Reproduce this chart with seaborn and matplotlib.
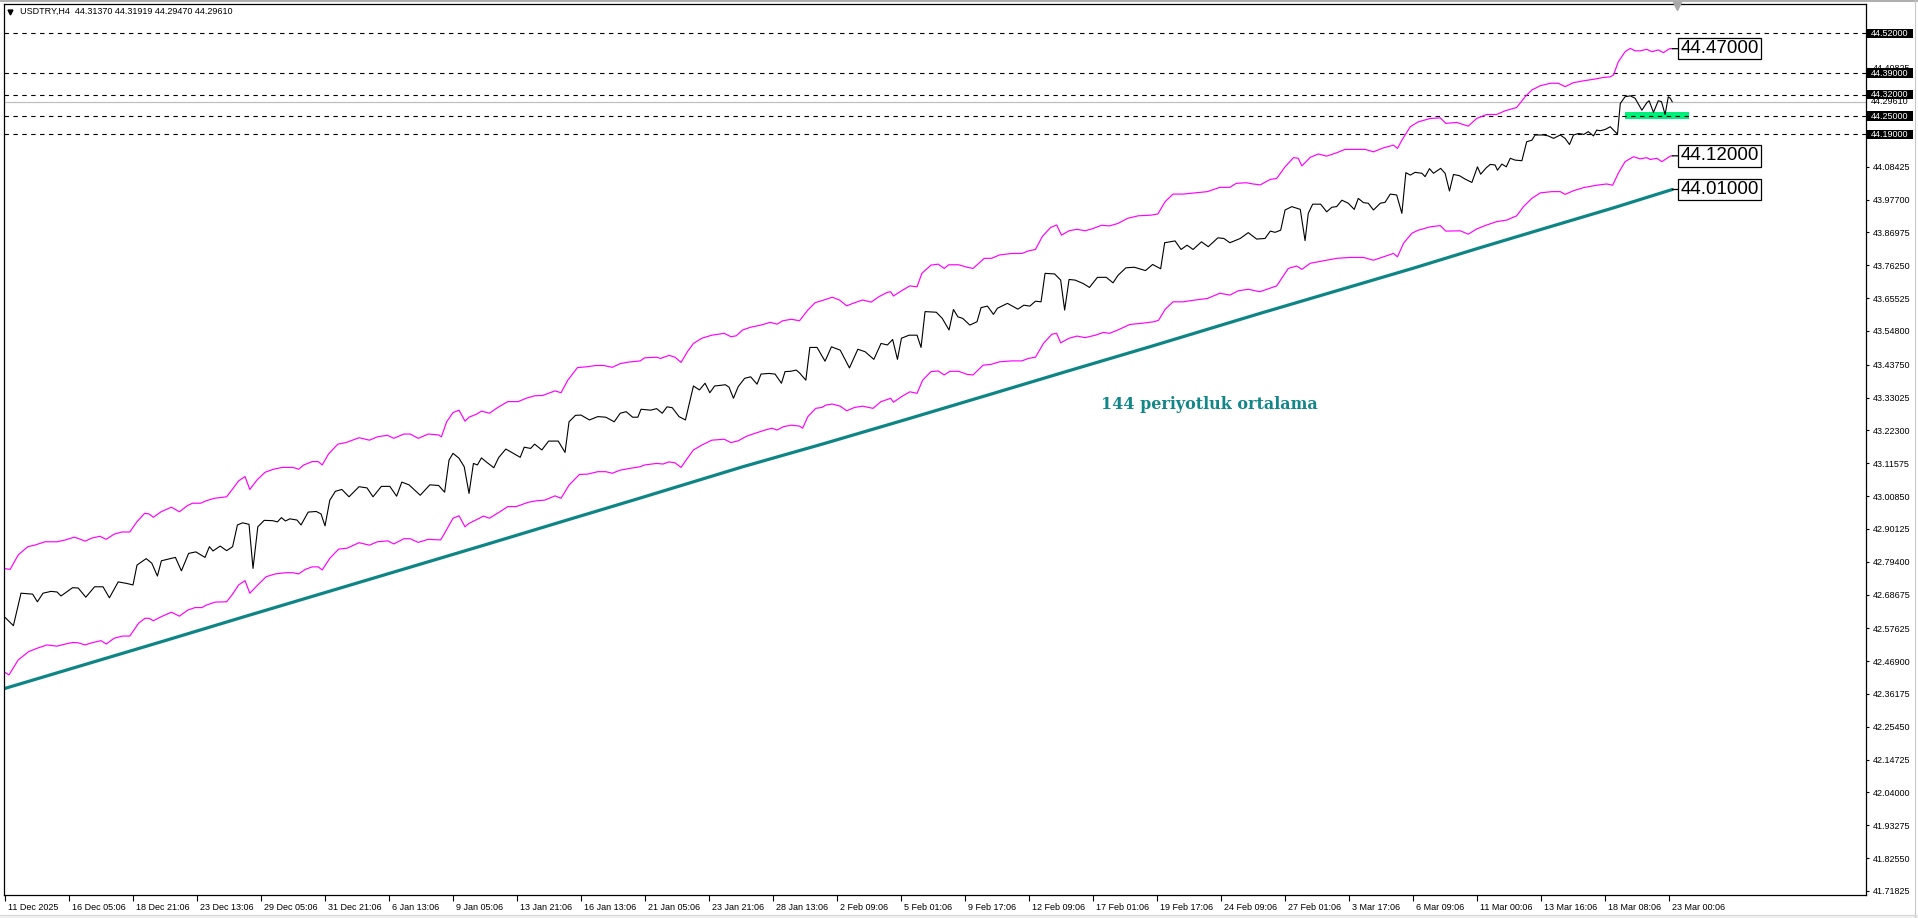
import matplotlib
matplotlib.use("Agg")
import matplotlib.pyplot as plt
import matplotlib.transforms as mtrans
from matplotlib.patches import Rectangle
from matplotlib.lines import Line2D
import seaborn as sns

sns.set_theme(style="white")
plt.rcParams['font.family'] = ['Liberation Sans', 'DejaVu Sans']

# ---------------- data (bar index = H4 bar counted from 11 Dec 2025) ----------------
close_bar = [0, 2.1, 4, 6.9, 8.1, 9.5, 11.5, 13, 14, 16.9, 18.3, 20.2, 22.4, 24.5, 26.1, 28.3, 30.4, 32, 33,
             35.3, 36.7, 38.1, 39.1, 42.6, 44.1, 45.9, 47.7, 50, 51.1, 52, 53.8, 55.4, 56.9, 58.1, 59.4, 61, 62,
             63.2, 64.8, 66.9, 68.1, 69.1, 70.1, 71.2, 73, 74, 75.8, 77.8, 79, 80, 81.2, 82.6, 84.2, 86, 88.5,
             90.5, 92, 94.1, 96.2, 97.9, 99.2, 101, 103.8, 106.2, 108.4, 109.9, 111, 112, 113.5, 114.8, 116,
             117.1, 118.1, 119.1, 120.6, 122.2, 123.4, 125.2, 126.8, 128.8, 129.8, 131.4, 132.4, 134.2, 135.9,
             138.3, 140, 141, 142.6, 144, 146.1, 148.2, 150.2, 152.3, 153.8, 155.3, 156.9, 158.2, 159, 161.4,
             162.9, 164.3, 165.5, 166.8, 168.5, 170.1, 172.1, 173.6, 175, 176.2, 177.4, 180.1, 181, 182.1,
             183.3, 184.9, 186.4, 188, 189, 191, 192.5, 194.1, 195, 196.4, 197.8, 198.6, 200.2, 201.2, 203,
             205, 206.6, 208.8, 211.1, 213.2, 215, 217.2, 219, 220.6, 221.9, 223.1, 224.1, 226, 228, 229, 230,
             232.8, 234.3, 236, 237.1, 238.2, 239.4, 241.2, 243, 244, 245.6, 247.1, 248.1, 250.6, 253.2, 254.7,
             256.2, 257.6, 259, 260, 262.4, 263.9, 264.9, 266, 267.5, 269.5, 271.1, 273.1, 275.3, 277, 278.2,
             280.2, 282.3, 285.1, 286.9, 288.9, 289.9, 292.5, 294, 295.5, 297, 299.1, 300.8, 303.2, 304.7,
             306.2, 308.8, 310.8, 312.9, 315, 316.3, 317.5, 318.9, 320, 321.7, 323.8, 325, 325.8, 326.9, 328.9,
             330.4, 331.7, 332.9, 334.2, 335.8, 337.3, 338.3, 339.6, 340.8, 342.1, 343.8, 345, 346.3, 347.9,
             349.2, 350.2, 351.3, 352.5, 354.2, 355, 356.1, 357.1, 358.9, 360, 361.1, 362.1, 363.6, 365, 366.7,
             368.1, 368.9, 370.3, 371.3, 372.5, 373.1, 374.2, 375.3, 376.3, 377.5, 379.2, 380.4, 381.7, 382.5,
             384.6, 385.8, 387.1, 388.8, 390, 391.1, 392.1, 393.4, 394.7, 395.8, 397.1, 397.9, 398.8, 400,
             401.3, 402.1, 403.1, 403.8, 405, 406.3, 407.5, 409.2, 410.4, 411, 412.1, 413.3, 414.1, 415, 415.8,
             416.3, 416.8]
close_val = [42.612, 42.585, 42.691, 42.688, 42.663, 42.691, 42.697, 42.695, 42.682, 42.709, 42.708, 42.678,
             42.712, 42.712, 42.676, 42.728, 42.723, 42.718, 42.783, 42.804, 42.789, 42.747, 42.797, 42.808,
             42.764, 42.821, 42.826, 42.808, 42.843, 42.829, 42.845, 42.830, 42.843, 42.914, 42.921, 42.916,
             42.772, 42.908, 42.929, 42.928, 42.924, 42.938, 42.927, 42.934, 42.930, 42.914, 42.956, 42.958,
             42.950, 42.911, 42.995, 43.024, 43.030, 43.006, 43.039, 43.035, 43.006, 43.040, 43.040, 43.008,
             43.054, 43.045, 43.011, 43.045, 43.043, 43.021, 43.126, 43.148, 43.132, 43.104, 43.017, 43.115,
             43.110, 43.133, 43.117, 43.101, 43.134, 43.162, 43.150, 43.135, 43.168, 43.164, 43.178, 43.159,
             43.188, 43.188, 43.151, 43.251, 43.272, 43.273, 43.257, 43.268, 43.266, 43.251, 43.279, 43.284,
             43.266, 43.266, 43.292, 43.289, 43.294, 43.279, 43.300, 43.297, 43.268, 43.257, 43.368, 43.355,
             43.377, 43.346, 43.368, 43.372, 43.364, 43.328, 43.366, 43.393, 43.398, 43.374, 43.407, 43.409,
             43.407, 43.377, 43.415, 43.416, 43.420, 43.411, 43.387, 43.494, 43.494, 43.449, 43.496, 43.485,
             43.427, 43.488, 43.480, 43.455, 43.507, 43.502, 43.520, 43.455, 43.524, 43.534, 43.534, 43.494,
             43.611, 43.609, 43.589, 43.551, 43.618, 43.594, 43.589, 43.567, 43.578, 43.624, 43.629, 43.602,
             43.622, 43.638, 43.619, 43.632, 43.629, 43.645, 43.643, 43.736, 43.734, 43.714, 43.616, 43.716,
             43.714, 43.703, 43.690, 43.723, 43.723, 43.705, 43.729, 43.754, 43.756, 43.745, 43.765, 43.751,
             43.836, 43.842, 43.814, 43.828, 43.814, 43.839, 43.823, 43.852, 43.850, 43.836, 43.850, 43.869,
             43.848, 43.850, 43.874, 43.870, 43.877, 43.943, 43.954, 43.945, 43.843, 43.932, 43.962, 43.962,
             43.937, 43.952, 43.954, 43.975, 43.965, 43.945, 43.981, 43.967, 43.965, 43.943, 43.965, 43.968,
             43.995, 43.992, 43.932, 44.065, 44.057, 44.066, 44.063, 44.052, 44.078, 44.063, 44.079, 44.063,
             44.005, 44.059, 44.055, 44.044, 44.033, 44.084, 44.060, 44.081, 44.092, 44.090, 44.073, 44.093,
             44.084, 44.112, 44.106, 44.104, 44.166, 44.171, 44.188, 44.188, 44.185, 44.177, 44.188, 44.177,
             44.157, 44.188, 44.193, 44.190, 44.199, 44.185, 44.204, 44.202, 44.206, 44.215, 44.204, 44.191,
             44.291, 44.313, 44.316, 44.308, 44.269, 44.293, 44.300, 44.262, 44.300, 44.297, 44.255, 44.313,
             44.308, 44.296]

upper_bar = [0, 1.3, 3.3, 5.7, 7.4, 10, 13, 15.1, 17.3, 18.3, 20, 21.7, 23.7, 25.3, 27.3, 29.2, 31.2, 32.9,
             34.9, 36, 37.1, 39, 41.6, 43.6, 45.7, 46.9, 48.9, 50.3, 52.3, 55.4, 56.7, 58.4, 60, 61.2, 63, 65,
             67.1, 69.3, 72, 73.4, 74.7, 76.8, 78.3, 79.3, 80.9, 83.2, 85.2, 88.5, 91.1, 93.1, 95.6, 97.2, 99.7,
             101.3, 103.3, 105.8, 108.4, 109.1, 110.4, 112, 113.5, 115, 116, 117.9, 119.1, 121.1, 123.2, 125.7,
             128.3, 130.3, 132.4, 134.4, 137.5, 139, 140.7, 143.1, 145.6, 147.7, 149.7, 151.8, 153.8, 155.8,
             158.8, 159.9, 162.9, 163.9, 166, 167.5, 169, 170.6, 172.1, 174.2, 176.7, 179.8, 181.5, 182.8, 184.4,
             186.4, 189, 191.3, 193, 194.4, 196.6, 198.6, 200.7, 202.5, 204.5, 206.8, 208.6, 210.4, 212.4,
             214.4, 216.5, 218.5, 220.6, 221.4, 222.1, 224.1, 226.2, 228, 229.2, 231.5, 233.3, 234.8, 235.9,
             238.4, 240.5, 242, 244.8, 246.6, 248.6, 251.7, 254.2, 255.8, 257.6, 259.3, 261.4, 262.9, 264.1,
             266, 268, 270, 272.1, 274.1, 276.1, 278.2, 280.7, 283.3, 286.4, 288.2, 290, 292, 294.5, 297.6,
             300.6, 303.7, 306.2, 307.8, 310.3, 312, 313.8, 316.3, 317.9, 320, 322.1, 323.3, 324.2, 326.3, 328.3,
             330.4, 332.9, 335, 337.5, 340, 342.1, 344.6, 347.1, 348.1, 349.2, 351.3, 353.3, 356.3, 358.8,
             360.2, 362.9, 365.8, 367.9, 370.4, 372.9, 375, 377.9, 380, 381.7, 383.8, 386.3, 388.3, 390, 392.1,
             394.6, 397.1, 399.6, 401.3, 402.1, 403.3, 405, 406.3, 407.5, 408.8, 410.4, 411.7, 413.3, 414.6,
             416.1, 416.8]
upper_val = [42.771, 42.769, 42.816, 42.843, 42.848, 42.859, 42.859, 42.865, 42.874, 42.870, 42.861, 42.871,
             42.877, 42.867, 42.884, 42.891, 42.891, 42.923, 42.952, 42.950, 42.939, 42.957, 42.972, 42.957,
             42.978, 42.985, 42.985, 42.993, 43.001, 43.006, 43.028, 43.058, 43.072, 43.030, 43.061, 43.086,
             43.096, 43.102, 43.102, 43.096, 43.110, 43.121, 43.121, 43.110, 43.146, 43.178, 43.183, 43.199,
             43.191, 43.202, 43.207, 43.197, 43.211, 43.211, 43.197, 43.211, 43.208, 43.202, 43.251, 43.281,
             43.289, 43.253, 43.266, 43.276, 43.286, 43.279, 43.298, 43.317, 43.317, 43.328, 43.336, 43.337,
             43.352, 43.346, 43.387, 43.428, 43.431, 43.435, 43.435, 43.429, 43.441, 43.446, 43.450, 43.460,
             43.462, 43.458, 43.468, 43.462, 43.445, 43.480, 43.507, 43.524, 43.534, 43.540, 43.529, 43.532,
             43.551, 43.560, 43.567, 43.576, 43.570, 43.581, 43.586, 43.581, 43.616, 43.640, 43.648, 43.658,
             43.649, 43.630, 43.640, 43.649, 43.642, 43.660, 43.674, 43.676, 43.662, 43.679, 43.695, 43.692,
             43.736, 43.763, 43.766, 43.752, 43.764, 43.764, 43.756, 43.752, 43.785, 43.785, 43.796, 43.801,
             43.801, 43.809, 43.814, 43.856, 43.886, 43.894, 43.861, 43.875, 43.880, 43.875, 43.883, 43.893,
             43.891, 43.899, 43.916, 43.924, 43.926, 43.930, 43.970, 43.995, 43.995, 43.999, 44.003, 44.017,
             44.017, 44.030, 44.032, 44.028, 44.025, 44.043, 44.046, 44.084, 44.114, 44.112, 44.087, 44.115,
             44.126, 44.119, 44.130, 44.141, 44.141, 44.141, 44.133, 44.146, 44.155, 44.144, 44.171, 44.215,
             44.231, 44.242, 44.244, 44.226, 44.229, 44.217, 44.242, 44.255, 44.255, 44.267, 44.278, 44.313,
             44.335, 44.349, 44.357, 44.357, 44.346, 44.359, 44.365, 44.370, 44.376, 44.378, 44.384, 44.427,
             44.460, 44.471, 44.463, 44.463, 44.468, 44.460, 44.466, 44.457, 44.470, 44.470]

lower_bar = [0, 1, 3.3, 5.9, 8, 10.5, 13, 15.1, 16.9, 18.3, 20, 21.7, 24, 25.3, 27.3, 29.4, 31.2, 33.4, 35,
             36, 37.1, 39, 41.6, 43.6, 45.7, 47.5, 49.2, 50.3, 52.6, 55.4, 56.9, 58.4, 60, 61.2, 63.2, 65.3,
             67.6, 70.2, 72, 73.4, 75.1, 76.8, 78.3, 79.3, 81.2, 83.4, 85.5, 88.5, 91.1, 93.1, 95.7, 97.2, 99.7,
             101.3, 103.3, 105.8, 108.9, 109.9, 112, 113.5, 115, 116, 118.6, 119.6, 121.1, 123.7, 125.7, 127.8,
             130.8, 132.9, 134.9, 137.5, 139, 141, 143.6, 145.6, 148.2, 150.2, 151.8, 153.8, 156.3, 158.7,
             159.9, 162.9, 164.5, 166, 167.5, 169, 170.6, 172.1, 174.2, 176.7, 179.8, 181.5, 183.3, 185.4,
             187.4, 190, 191.7, 193, 194.6, 196.6, 198.6, 199.4, 200.7, 202.7, 204.2, 205.3, 206.8, 208.8,
             210.4, 212.4, 214.4, 217, 219, 220.6, 221.4, 222.1, 224.1, 226.2, 228, 229.4, 231.5, 233.3, 234.8,
             236.2, 238.4, 240.5, 242, 244.5, 246.6, 248.6, 251.7, 254.2, 255.8, 257.6, 259.6, 261.7, 262.9,
             263.9, 266, 268, 270, 272.6, 274.6, 276.1, 278.2, 281.2, 284.3, 287.3, 288.4, 290, 292, 294.5,
             297.6, 300.6, 303.7, 306.2, 308.3, 310.8, 313.7, 317.9, 320.8, 322.9, 324.2, 326.3, 330.4, 332.9,
             336.2, 339.6, 342.1, 344.6, 347.1, 348.1, 349.6, 351.7, 353.3, 356.3, 358.8, 360.2, 363.8, 365.8,
             367.9, 370.4, 372.9, 375.4, 377.9, 379.6, 381.7, 383.8, 386.7, 388.8, 390, 392.1, 394.6, 397.9,
             400.4, 401.9, 403.3, 405, 407.1, 408.8, 410.4, 411.3, 412.9, 414.2, 416.3, 416.8]
lower_val = [42.432, 42.424, 42.473, 42.500, 42.511, 42.522, 42.518, 42.525, 42.530, 42.529, 42.522, 42.529,
             42.536, 42.525, 42.544, 42.551, 42.551, 42.593, 42.609, 42.609, 42.601, 42.614, 42.629, 42.616,
             42.636, 42.644, 42.644, 42.652, 42.662, 42.663, 42.688, 42.718, 42.732, 42.691, 42.718, 42.745,
             42.754, 42.758, 42.758, 42.754, 42.769, 42.777, 42.777, 42.767, 42.805, 42.835, 42.838, 42.856,
             42.848, 42.859, 42.862, 42.852, 42.869, 42.869, 42.857, 42.867, 42.865, 42.887, 42.936, 42.944,
             42.908, 42.919, 42.936, 42.943, 42.936, 42.957, 42.974, 42.974, 42.988, 42.993, 42.995, 43.009,
             43.001, 43.044, 43.079, 43.080, 43.088, 43.088, 43.083, 43.093, 43.099, 43.104, 43.110, 43.115,
             43.113, 43.120, 43.117, 43.102, 43.132, 43.159, 43.175, 43.191, 43.194, 43.183, 43.189, 43.204,
             43.213, 43.224, 43.230, 43.224, 43.235, 43.240, 43.237, 43.230, 43.268, 43.295, 43.298, 43.306,
             43.309, 43.302, 43.287, 43.298, 43.302, 43.295, 43.317, 43.324, 43.328, 43.315, 43.333, 43.349,
             43.344, 43.387, 43.415, 43.417, 43.404, 43.416, 43.416, 43.406, 43.404, 43.436, 43.439, 43.447,
             43.450, 43.450, 43.458, 43.462, 43.507, 43.537, 43.540, 43.509, 43.524, 43.531, 43.526, 43.534,
             43.543, 43.540, 43.551, 43.569, 43.573, 43.578, 43.583, 43.618, 43.643, 43.643, 43.649, 43.654,
             43.671, 43.665, 43.679, 43.684, 43.676, 43.695, 43.752, 43.760, 43.749, 43.769, 43.779, 43.785,
             43.788, 43.788, 43.779, 43.790, 43.801, 43.790, 43.834, 43.867, 43.877, 43.888, 43.892, 43.874,
             43.875, 43.864, 43.881, 43.894, 43.905, 43.910, 43.924, 43.954, 43.981, 43.999, 44.003, 44.003,
             43.994, 44.006, 44.016, 44.024, 44.028, 44.024, 44.063, 44.101, 44.117, 44.110, 44.114, 44.108,
             44.112, 44.101, 44.119, 44.120]

ma_bar = [0, 20, 40, 60, 80, 100, 120, 140, 157.8, 184.4, 204.8, 225.1, 245.6, 266, 286.4,
          313.7, 352.1, 368.8, 385.4, 402.1, 416.8]
ma_val = [42.380, 42.458, 42.536, 42.615, 42.693, 42.771, 42.849, 42.928, 42.998, 43.104, 43.180, 43.258,
          43.338, 43.418, 43.497, 43.605, 43.753, 43.820, 43.885, 43.950, 44.010]

level_values = [44.52, 44.39, 44.32, 44.25, 44.19]
level_labels = ["44.52000", "44.39000", "44.32000", "44.25000", "44.19000"]
last_price = 44.2961
last_label = "44.29610"

box_values = [44.47, 44.12, 44.01]
box_labels = ["44.47000", "44.12000", "44.01000"]
box_anchor_bar = 416.8

zone_bar_start, zone_bar_end = 405, 421
zone_low, zone_high = 44.241, 44.263

ytick_values = [41.71825, 41.82550, 41.93275, 42.04000, 42.14725, 42.25450, 42.36175, 42.46900, 42.57625,
                42.68675, 42.79400, 42.90125, 43.00850, 43.11575, 43.22300, 43.33025, 43.43750, 43.54800,
                43.65525, 43.76250, 43.86975, 43.97700, 44.08425, 44.40825]
ytick_labels = ["%.5f" % v for v in ytick_values]

xtick_labels = ["11 Dec 2025", "16 Dec 05:06", "18 Dec 21:06", "23 Dec 13:06", "29 Dec 05:06",
                "31 Dec 21:06", "6 Jan 13:06", "9 Jan 05:06", "13 Jan 21:06", "16 Jan 13:06", "21 Jan 05:06",
                "23 Jan 21:06", "28 Jan 13:06", "2 Feb 09:06", "5 Feb 01:06", "9 Feb 17:06", "12 Feb 09:06",
                "17 Feb 01:06", "19 Feb 17:06", "24 Feb 09:06", "27 Feb 01:06", "3 Mar 17:06", "6 Mar 09:06",
                "11 Mar 00:06", "13 Mar 16:06", "18 Mar 08:06", "23 Mar 00:06"]
xtick_bars = [16 * i for i in range(len(xtick_labels))]

header = "USDTRY,H4  44.31370 44.31919 44.29470 44.29610"
ma_note = "144 periyotluk ortalama"

# ---------------- figure ----------------
W, H = 1918, 918
fig = plt.figure(figsize=(W / 100, H / 100), dpi=100)
fig.patch.set_facecolor("white")
ax_l, ax_r, ax_t, ax_b = 4, 1865.5, 4, 895
ax = fig.add_axes([ax_l / W, 1 - ax_b / H, (ax_r - ax_l) / W, (ax_b - ax_t) / H])
ax.set_facecolor("white")

TEAL = "#0e8585"
MAG = "#ff00ff"

# window frame (terminal chrome)
fig.add_artist(Rectangle((0, 0), 1, 3 / H, transform=fig.transFigure, facecolor="#f0f0f0",
                         edgecolor="none", zorder=0))
fig.add_artist(Line2D([0, 1], [1 - 0.5 / H, 1 - 0.5 / H], color="#a0a0a0", lw=1.2, transform=fig.transFigure))
fig.add_artist(Line2D([1 - 3 / W, 1 - 3 / W], [0, 1], color="#c8c8c8", lw=0.8, transform=fig.transFigure))
fig.add_artist(Line2D([0, 1], [3 / H, 3 / H], color="#d8d8d8", lw=0.8, transform=fig.transFigure))

# support zone
ax.add_patch(Rectangle((zone_bar_start, zone_low), zone_bar_end - zone_bar_start, zone_high - zone_low,
                       facecolor="#00f07c", edgecolor="none", zorder=1.2))

# level lines
for v in level_values:
    ax.axhline(v, color="black", lw=0.8, ls=(0, (4, 4)), zorder=1.5)
ax.axhline(last_price, color="#c0c0c0", lw=0.9, zorder=1.4)

sns.lineplot(x=ma_bar, y=ma_val, ax=ax, color=TEAL, lw=2.3, sort=False, estimator=None, zorder=2)
sns.lineplot(x=upper_bar, y=upper_val, ax=ax, color=MAG, lw=0.85, sort=False, estimator=None, zorder=2.1)
sns.lineplot(x=lower_bar, y=lower_val, ax=ax, color=MAG, lw=0.85, sort=False, estimator=None, zorder=2.1)
sns.lineplot(x=close_bar, y=close_val, ax=ax, color="black", lw=0.8, sort=False, estimator=None, zorder=2.2)

ax.set_xlim(-0.25, 465.1)
ax.set_ylim(41.705, 44.616)

for s in ax.spines.values():
    s.set_visible(True)
    s.set_color("black")
    s.set_linewidth(0.9)

ax.yaxis.tick_right()
ax.set_yticks(ytick_values, ytick_labels)
ax.set_xticks(xtick_bars, xtick_labels)
ax.tick_params(axis="y", which="both", right=True, left=False, direction="out", length=2.5, width=0.8,
               pad=2.5, labelsize=6.5, colors="black")
ax.tick_params(axis="x", which="both", bottom=True, direction="out", length=4, width=0.8, pad=1.5,
               labelsize=6.5, colors="black")
off = mtrans.ScaledTranslation(3 / 100, 0, fig.dpi_scale_trans)
for lab in ax.get_xticklabels():
    lab.set_horizontalalignment("left")
    lab.set_transform(lab.get_transform() + off)
ax.set_xlabel("")
ax.set_ylabel("")
ax.grid(False)

# right-side level price tags
blend = mtrans.blended_transform_factory(ax.transAxes, ax.transData)
tag_w = 47 / (ax_r - ax_l)
tag_h = 9.5 / 306.1
lp = ax.text(1.0, last_price, last_label, fontsize=6.5, va="center", ha="left", color="black",
             zorder=5, clip_on=False, bbox=dict(boxstyle="square,pad=0.05", fc="white", ec="none"))
lp.set_transform(blend + mtrans.ScaledTranslation(5.5 / 100, 0, fig.dpi_scale_trans))
for v, lab in zip(level_values, level_labels):
    ax.add_patch(Rectangle((1.0005, v - tag_h / 2), tag_w, tag_h, transform=blend, facecolor="black",
                           edgecolor="none", clip_on=False, zorder=6))
    t = ax.text(1.0, v, lab, fontsize=6.5, va="center", ha="left", color="white", zorder=7, clip_on=False)
    t.set_transform(blend + mtrans.ScaledTranslation(5.5 / 100, 0, fig.dpi_scale_trans))

# boxed indicator values
for v, lab in zip(box_values, box_labels):
    ax.annotate(lab, xy=(box_anchor_bar, v), xytext=(418.9, v), textcoords="data", ha="left", va="center",
                fontsize=13.5, color="black", annotation_clip=False, zorder=8,
                bbox=dict(boxstyle="square,pad=0.12", fc="white", ec="black", lw=0.9),
                arrowprops=dict(arrowstyle="-", color="black", lw=0.9, shrinkA=0, shrinkB=0))

ax.text(301.2, 43.309, ma_note, fontsize=11.5, fontweight="bold", color="#12878a",
        family=["DejaVu Serif"], ha="center", va="center")

# header
fig.text(20 / W, 1 - 11.5 / H, header, fontsize=6.5, va="center", ha="left", color="black")
fig.add_artist(Line2D([10 / W], [1 - 12 / H], marker="v", ms=3.5, color="black", mec="black",
                      transform=fig.transFigure))
fig.add_artist(Line2D([1676.5 / W], [1 - 6 / H], marker="v", ms=6, color="#a8a8a8", mec="#a8a8a8",
                      transform=fig.transFigure))

fig.savefig("out.png", dpi=100, facecolor="white")
